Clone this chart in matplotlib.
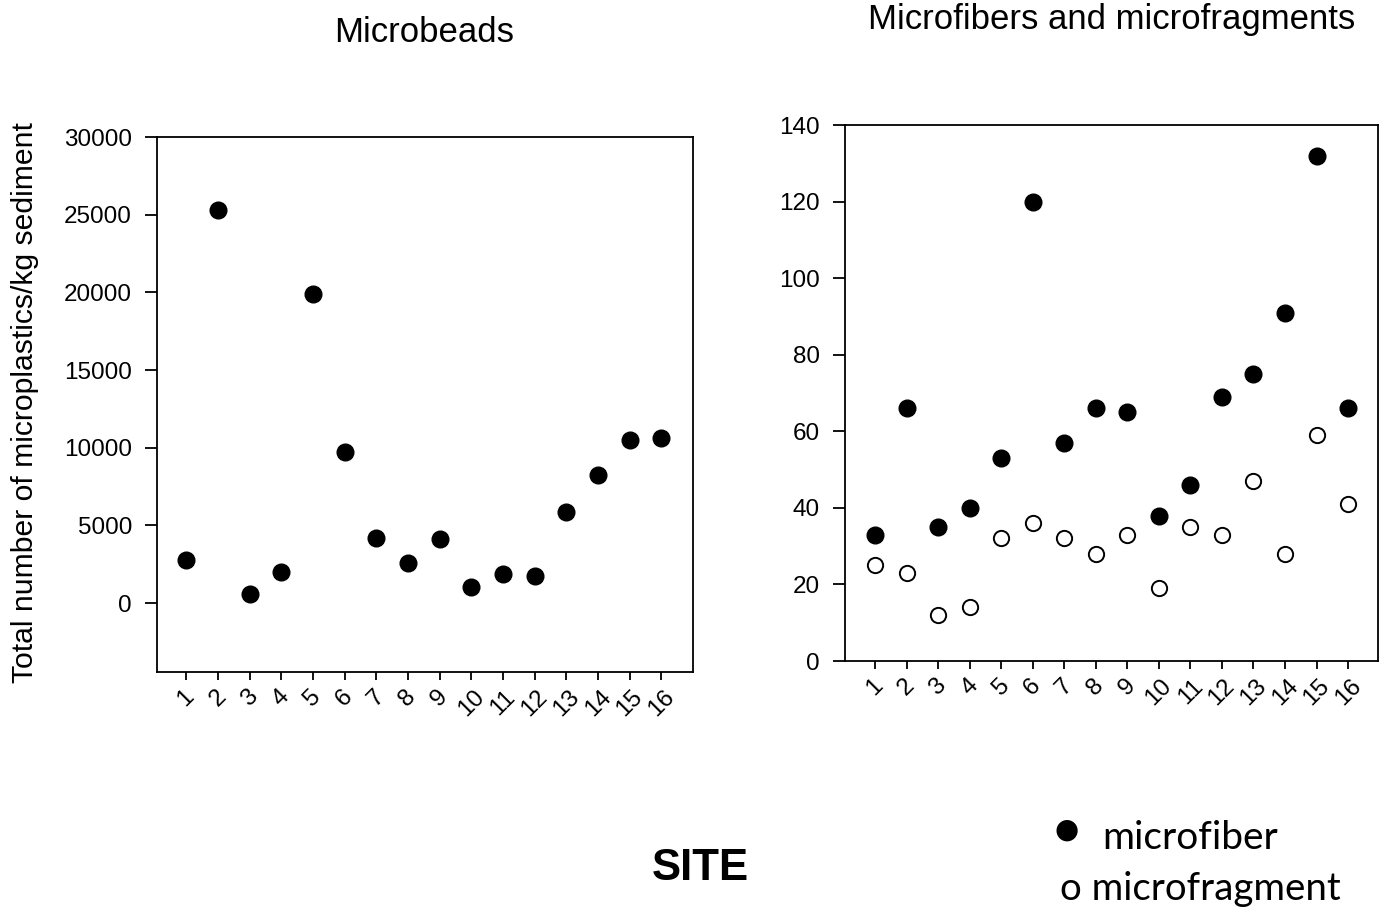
import matplotlib
matplotlib.use("Agg")
import matplotlib.pyplot as plt

plt.rcParams['font.family'] = ['Liberation Sans', 'DejaVu Sans']

# --- dati ---
sites = list(range(1, 17))
site_labels = [str(s) for s in sites]

microbeads = [2800, 25300, 600, 2000, 19900, 9700, 4200, 2600,
              4100, 1000, 1900, 1750, 5850, 8250, 10500, 10600]

microfiber = [33, 66, 35, 40, 53, 120, 57, 66, 65, 38, 46, 69, 75, 91, 132, 66]
microfragment = [25, 23, 12, 14, 32, 36, 32, 28, 33, 19, 35, 33, 47, 28, 59, 41]

beads_yticks = [0, 5000, 10000, 15000, 20000, 25000, 30000]
fib_yticks = [0, 20, 40, 60, 80, 100, 120, 140]

W, H = 1388, 909
fig = plt.figure(figsize=(W / 100, H / 100), dpi=100)


def px_axes(left, top, right, bottom):
    return fig.add_axes([left / W, 1 - bottom / H, (right - left) / W, (bottom - top) / H])


def stile_assi(ax):
    for sp in ax.spines.values():
        sp.set_linewidth(1.3)
    ax.tick_params(axis='y', length=9, width=1.3, pad=9, labelsize=17.5)
    ax.tick_params(axis='x', length=6, width=1.3, pad=4, labelsize=17.5)
    ax.set_xticks(sites)
    ax.set_xticklabels(site_labels, rotation=45, ha='center', va='top')


# --- Microbeads ---
ax1 = px_axes(157, 137, 693, 672)
ax1.plot(sites, microbeads, 'o', color='black', markersize=12, linestyle='none')
ax1.set_xlim(0.08, 17.0)
ax1.set_ylim(-4440, 30000)
ax1.set_yticks(beads_yticks)
stile_assi(ax1)

# --- Microfibers and microfragments ---
ax2 = px_axes(845, 125, 1378, 661)
ax2.plot(sites, microfiber, 'o', color='black', markersize=12, linestyle='none')
ax2.plot(sites, microfragment, 'o', markerfacecolor='white', markeredgecolor='black',
         markeredgewidth=1.4, markersize=11, linestyle='none')
ax2.set_xlim(0.05, 16.95)
ax2.set_ylim(0, 140)
ax2.set_yticks(fib_yticks)
stile_assi(ax2)

# --- testi ---
fig.text(424 / W, 1 - 33 / H, 'Microbeads', ha='center', va='center', fontsize=25)
fig.text(1112 / W, 1 - 20 / H, 'Microfibers and microfragments', ha='center', va='center', fontsize=25)
fig.text(25 / W, 1 - 403 / H, 'Total number of microplastics/kg sediment',
         rotation=90, ha='center', va='center', fontsize=21.7)
fig.text(700 / W, 1 - 868 / H, 'SITE', ha='center', va='center', fontsize=31.5, fontweight='bold')

# legenda manuale
fig.text(1067 / W, 1 - 830 / H, '\u25CF', ha='center', va='center', fontsize=20, family=['DejaVu Sans'])
fig.text(1102 / W, 1 - 849 / H, 'microfiber', ha='left', va='baseline', fontsize=28, family=['Lato', 'DejaVu Sans'])
fig.text(1060 / W, 1 - 900 / H, 'o microfragment', ha='left', va='baseline', fontsize=27.6, family=['Lato', 'DejaVu Sans'])

fig.savefig('out.png', dpi=100)
